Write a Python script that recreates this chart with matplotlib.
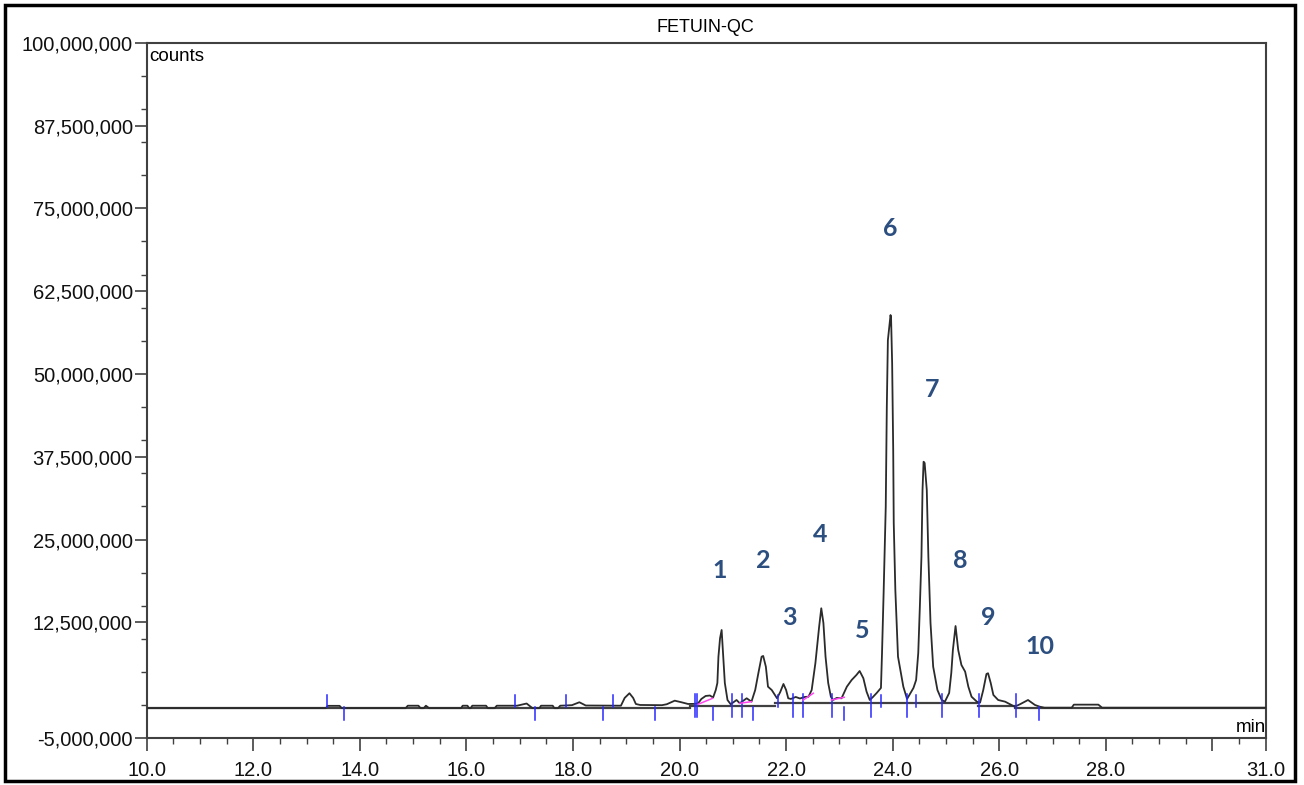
import matplotlib
matplotlib.use("Agg")
import matplotlib.pyplot as plt
from matplotlib.patches import Rectangle

plt.rcParams['font.family'] = ['Liberation Sans', 'DejaVu Sans']

# chromatogram trace, time (min) / signal (millions of counts)
trace_t = [10.00, 13.36, 13.40, 13.62, 13.66, 14.86, 14.90, 15.10, 15.14, 15.20,
           15.24, 15.30, 15.90, 15.93, 16.02, 16.05, 16.08, 16.11, 16.37, 16.40,
           16.53, 16.57, 16.95, 17.13, 17.24, 17.37, 17.40, 17.62, 17.65, 17.72,
           17.76, 17.98, 18.12, 18.24, 18.90, 18.97, 19.06, 19.13, 19.18, 19.26,
           19.67, 19.76, 19.91, 20.05, 20.16, 20.29, 20.35, 20.41, 20.49, 20.57,
           20.63, 20.68, 20.71, 20.73, 20.76, 20.79, 20.82, 20.85, 20.90, 20.96,
           21.07, 21.13, 21.26, 21.35, 21.42, 21.48, 21.54, 21.57, 21.62, 21.66,
           21.73, 21.79, 21.83, 21.89, 21.95, 22.00, 22.04, 22.09, 22.18, 22.26,
           22.35, 22.42, 22.48, 22.55, 22.62, 22.66, 22.70, 22.74, 22.79, 22.84,
           22.88, 22.95, 23.04, 23.14, 23.23, 23.32, 23.38, 23.45, 23.51, 23.57,
           23.63, 23.70, 23.78, 23.80, 23.83, 23.87, 23.89, 23.91, 23.96, 23.97,
           23.99, 24.01, 24.02, 24.05, 24.10, 24.20, 24.27, 24.39, 24.44, 24.48,
           24.51, 24.54, 24.56, 24.58, 24.60, 24.64, 24.67, 24.71, 24.76, 24.84,
           24.92, 24.98, 25.06, 25.10, 25.13, 25.18, 25.23, 25.29, 25.36, 25.42,
           25.48, 25.58, 25.64, 25.70, 25.76, 25.79, 25.84, 25.89, 25.98, 26.11,
           26.23, 26.29, 26.39, 26.54, 26.67, 26.76, 26.85, 27.36, 27.40, 27.86,
           27.93, 31.00]
trace_v = [-0.45, -0.45, -0.10, -0.10, -0.45, -0.45, -0.08, -0.08, -0.45, -0.45,
           -0.08, -0.45, -0.45, -0.08, -0.08, -0.45, -0.45, -0.08, -0.08, -0.45,
           -0.45, -0.08, -0.08, 0.25, -0.45, -0.45, -0.08, -0.08, -0.45, -0.45,
           -0.08, 0.00, 0.44, -0.05, -0.08, 1.09, 1.80, 1.09, 0.18, 0.03,
           0.00, 0.14, 0.68, 0.41, 0.18, 0.20, 0.29, 0.94, 1.39, 1.46,
           1.16, 2.29, 3.35, 7.32, 10.10, 11.35, 7.32, 3.35, 0.78, 0.14,
           0.78, 0.29, 1.04, 0.53, 2.29, 4.86, 7.32, 7.43, 5.81, 2.79,
           2.29, 1.54, 1.04, 1.99, 3.20, 2.29, 1.04, 0.94, 1.24, 1.01,
           1.24, 1.28, 2.29, 6.37, 11.85, 14.63, 12.41, 7.32, 3.35, 1.28,
           0.78, 1.09, 1.04, 2.79, 3.80, 4.56, 5.16, 4.06, 2.04, 0.78,
           1.24, 1.84, 2.60, 7.88, 16.94, 29.96, 45.06, 55.10, 58.90, 58.40,
           51.65, 38.52, 27.50, 17.38, 7.32, 2.79, 0.94, 2.60, 3.80, 7.88,
           14.87, 22.42, 32.48, 36.75, 36.56, 32.48, 22.42, 12.41, 5.81, 2.29,
           0.78, 0.53, 1.84, 4.86, 8.33, 11.95, 8.33, 6.07, 5.06, 2.79,
           1.28, 0.53, 0.38, 2.29, 4.71, 4.82, 3.35, 1.54, 0.78, 0.53,
           0.03, -0.23, 0.14, 0.78, 0.03, -0.23, -0.38, -0.38, 0.08, 0.08,
           -0.38, -0.38]

# integration baseline pieces: start, end, level (millions)
base_start = [10.0, 20.2, 21.8, 25.6, 26.3]
base_end = [20.2, 21.8, 25.6, 26.3, 31.0]
base_level = [-0.45, -0.15, 0.28, -0.10, -0.38]

# peak start/end marks (u = above, d = below, b = both)
mark_t = [13.38, 13.70, 16.91, 17.29, 17.87, 18.56, 18.76, 19.54, 20.29, 20.32,
          20.62, 20.98, 21.17, 21.37, 21.84, 22.12, 22.31, 22.87, 23.08, 23.59,
          23.78, 24.27, 24.43, 24.93, 25.62, 26.31, 26.75]
mark_kind = ['u', 'd', 'u', 'd', 'u', 'd', 'u', 'd', 'b', 'b',
             'd', 'b', 'b', 'd', 'u', 'b', 'b', 'b', 'd', 'b',
             'u', 'b', 'u', 'b', 'b', 'b', 'd']

# drop lines drawn in magenta
mag_t0 = [20.35, 21.13, 22.32, 22.85]
mag_v0 = [0.14, 0.29, 0.78, 0.78]
mag_t1 = [20.62, 21.35, 22.51, 23.09]
mag_v1 = [1.04, 0.53, 1.80, 1.19]

# peak numbers
peak_names = ['1', '2', '3', '4', '5', '6', '7', '8', '9', '10']
peak_label_t = [20.76, 21.57, 22.07, 22.64, 23.42, 23.95, 24.74, 25.26, 25.79, 26.77]
peak_label_v = [20.4, 21.9, 13.3, 25.8, 11.2, 71.9, 47.6, 21.9, 13.3, 8.9]

fig = plt.figure(figsize=(13.04, 7.85), dpi=100)
ax = fig.add_axes([0.1125, 0.0595, 0.8581, 0.886])

for s, e, lv in zip(base_start, base_end, base_level):
    ax.plot([s, e], [lv, lv], color='#404040', lw=1.6, zorder=2)
ax.plot(trace_t, trace_v, color='#2b2b2b', lw=1.3, zorder=3)

for t, k in zip(mark_t, mark_kind):
    lv = -0.3
    if k == 'u':
        lo, hi = lv, lv + 1.9
    elif k == 'd':
        lo, hi = lv - 1.9, lv
    else:
        lo, hi = lv - 1.5, lv + 2.0
    ax.plot([t, t], [lo, hi], color='#2828ff', lw=1.1, zorder=4)

for a, b, c, d in zip(mag_t0, mag_v0, mag_t1, mag_v1):
    ax.plot([a, c], [b, d], color='#ff44ee', lw=1.1, zorder=4)

for n, t, v in zip(peak_names, peak_label_t, peak_label_v):
    ax.text(t, v, n, ha='center', va='center', fontsize=18, color='#2c4f80',
            family=['Lato', 'DejaVu Sans'], fontweight='bold')

ax.set_xlim(10, 31)
ax.set_ylim(-5, 100)

xt = [10, 12, 14, 16, 18, 20, 22, 24, 26, 28, 30, 31]
ax.set_xticks(xt)
ax.set_xticklabels([f"{v:.1f}" if v != 30 else '' for v in xt])
ax.set_xticks([10 + 0.5 * i for i in range(43)], minor=True)

yt = [-5, 12.5, 25, 37.5, 50, 62.5, 75, 87.5, 100]
ax.set_yticks(yt)
ax.set_yticklabels([f"{int(v * 1e6):,}" for v in yt])
ax.set_yticks([-5 + 5 * i for i in range(22)], minor=True)

ax.tick_params(which='major', direction='out', length=9, width=1.2, color='#404040',
               labelsize=14.5, labelcolor='#111111')
ax.tick_params(axis='y', which='major', pad=1)
ax.tick_params(axis='x', which='major', pad=7)
ax.tick_params(which='minor', direction='out', length=4, width=1.0, color='#404040')
for sp in ax.spines.values():
    sp.set_color('#404040')
    sp.set_linewidth(1.5)

ax.text(0.002, 0.992, 'counts', transform=ax.transAxes, ha='left', va='top', fontsize=13.5)
ax.text(1.0, 0.004, 'min', transform=ax.transAxes, ha='right', va='bottom', fontsize=13.5)
fig.text(0.5406, 1 - 28 / 785, 'FETUIN-QC', ha='center', va='center', fontsize=13)

fig.patches.append(Rectangle((5 / 1304, 4 / 785), 1290 / 1304, 776 / 785,
                             transform=fig.transFigure, fill=False,
                             edgecolor='black', lw=2.5))

fig.savefig('out.png', dpi=100)
